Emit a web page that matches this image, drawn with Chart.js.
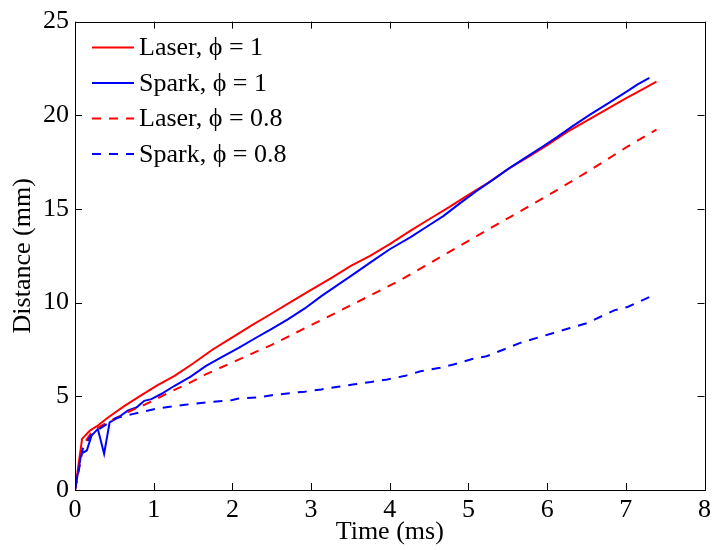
<!DOCTYPE html>
<html lang="en">
<head>
    <meta charset="UTF-8">
    <title>Distance vs Time</title>
    <script src="https://cdn.jsdelivr.net/npm/chart.js"></script>
    <style>
        body { margin: 0; background: #fff; }
        #wrap { width: 716px; height: 550px; }
    </style>
</head>
<body>
    <div id="wrap"><canvas id="distChart"></canvas></div>
    <script>
        // Laser, phi = 1
        const laser1Time = [0, 0.09, 0.19, 0.29, 0.42, 0.63, 0.84, 1.05, 1.26, 1.5, 1.75, 2.0, 2.25, 2.5, 2.75, 3.0, 3.25, 3.5, 3.75, 4.0, 4.25, 4.5, 4.75, 5.0, 5.25, 5.5, 5.75, 6.0, 6.25, 6.5, 6.75, 7.0, 7.2, 7.39];
        const laser1Dist = [0, 2.73, 3.17, 3.44, 3.87, 4.49, 5.05, 5.6, 6.08, 6.75, 7.5, 8.15, 8.8, 9.42, 10.05, 10.68, 11.3, 11.95, 12.5, 13.12, 13.8, 14.45, 15.08, 15.75, 16.4, 17.12, 17.75, 18.4, 19.1, 19.7, 20.3, 20.9, 21.35, 21.8];

        // Spark, phi = 1
        const spark1Time = [0, 0.08, 0.15, 0.21, 0.29, 0.37, 0.44, 0.55, 0.67, 0.78, 0.88, 0.97, 1.09, 1.26, 1.47, 1.66, 1.87, 2.08, 2.29, 2.5, 2.71, 2.92, 3.13, 3.34, 3.55, 3.76, 4.0, 4.26, 4.47, 4.68, 4.89, 5.1, 5.31, 5.52, 5.73, 5.94, 6.13, 6.32, 6.55, 6.8, 7.03, 7.15, 7.3];
        const spark1Dist = [0, 1.94, 2.11, 2.9, 3.26, 1.94, 3.61, 3.87, 4.23, 4.4, 4.76, 4.85, 5.11, 5.55, 6.05, 6.61, 7.1, 7.58, 8.1, 8.6, 9.12, 9.69, 10.35, 10.95, 11.55, 12.16, 12.85, 13.48, 14.05, 14.62, 15.3, 15.95, 16.55, 17.18, 17.75, 18.32, 18.85, 19.41, 20.05, 20.7, 21.32, 21.65, 22.0];

        // Laser, phi = 0.8
        const laser08Time = [0, 0.1, 0.2, 0.3, 0.5, 0.71, 0.9, 1.1, 1.24, 1.45, 1.66, 2.08, 2.5, 2.92, 3.34, 3.76, 4.09, 4.5, 5.0, 5.5, 6.0, 6.5, 7.03, 7.39];
        const laser08Dist = [0, 2.4, 3.0, 3.35, 3.8, 4.23, 4.58, 5.0, 5.3, 5.7, 6.17, 6.96, 7.75, 8.63, 9.51, 10.4, 11.1, 12.08, 13.3, 14.5, 15.7, 16.95, 18.35, 19.24];

        // Spark, phi = 0.8
        const spark08Time = [0, 0.1, 0.2, 0.31, 0.52, 0.65, 0.73, 0.92, 1.07, 1.24, 1.4, 1.66, 2.0, 2.08, 2.33, 2.5, 2.67, 2.92, 3.13, 3.34, 3.55, 3.76, 3.97, 4.2, 4.39, 4.64, 4.81, 5.06, 5.23, 5.45, 5.65, 6.07, 6.28, 6.5, 6.86, 7.03, 7.3];
        const spark08Dist = [0, 2.2, 2.9, 3.26, 3.84, 3.97, 4.05, 4.23, 4.37, 4.46, 4.55, 4.67, 4.8, 4.88, 4.94, 5.06, 5.14, 5.25, 5.37, 5.51, 5.64, 5.76, 5.9, 6.1, 6.34, 6.52, 6.7, 7.0, 7.14, 7.5, 7.84, 8.37, 8.63, 8.9, 9.6, 9.78, 10.3];

        const xTicks = [0, 1, 2, 3, 4, 5, 6, 7, 8];
        const yTicks = [0, 5, 10, 15, 20, 25];

        const toPoints = (t, d) => t.map((v, i) => ({ x: v, y: d[i] }));
        const serif = '"Liberation Serif", "Times New Roman", serif';

        // frame with inward ticks (matlab style) + legend in the top left corner
        const boxAndLegend = {
            id: 'boxAndLegend',
            afterDatasetsDraw(chart) {
                const { ctx, chartArea: a, scales } = chart;
                const tl = 7;
                ctx.save();
                ctx.strokeStyle = '#000';
                ctx.lineWidth = 1;
                ctx.setLineDash([]);
                ctx.beginPath();
                scales.x.ticks.forEach(t => {
                    const px = Math.round(scales.x.getPixelForValue(t.value)) + 0.5;
                    ctx.moveTo(px, a.bottom); ctx.lineTo(px, a.bottom - tl);
                    ctx.moveTo(px, a.top); ctx.lineTo(px, a.top + tl);
                });
                scales.y.ticks.forEach(t => {
                    const py = Math.round(scales.y.getPixelForValue(t.value)) + 0.5;
                    ctx.moveTo(a.left, py); ctx.lineTo(a.left + tl, py);
                    ctx.moveTo(a.right, py); ctx.lineTo(a.right - tl, py);
                });
                ctx.stroke();
                ctx.strokeRect(Math.round(a.left) + 0.5, Math.round(a.top) + 0.5,
                    Math.round(a.right - a.left), Math.round(a.bottom - a.top));

                // legend
                ctx.font = '26px ' + serif;
                ctx.textBaseline = 'middle';
                ctx.textAlign = 'left';
                chart.data.datasets.forEach((ds, i) => {
                    const y = a.top + 26 + i * 35.5;
                    ctx.strokeStyle = ds.borderColor;
                    ctx.lineWidth = 2;
                    ctx.setLineDash(ds.borderDash || []);
                    ctx.beginPath();
                    ctx.moveTo(a.left + 17, y);
                    ctx.lineTo(a.left + 59, y);
                    ctx.stroke();
                    ctx.setLineDash([]);
                    ctx.fillStyle = '#000';
                    ctx.fillText(ds.label, a.left + 64, y + 1);
                });
                ctx.restore();
            }
        };

        const ctx = document.getElementById('distChart').getContext('2d');
        const distChart = new Chart(ctx, {
            type: 'line',
            data: {
                datasets: [
                    { label: 'Laser, \u03d5 = 1', data: toPoints(laser1Time, laser1Dist), borderColor: '#ff0000', order: 4 },
                    { label: 'Spark, \u03d5 = 1', data: toPoints(spark1Time, spark1Dist), borderColor: '#0000ff', order: 3 },
                    { label: 'Laser, \u03d5 = 0.8', data: toPoints(laser08Time, laser08Dist), borderColor: '#ff0000', borderDash: [9, 8], order: 2 },
                    { label: 'Spark, \u03d5 = 0.8', data: toPoints(spark08Time, spark08Dist), borderColor: '#0000ff', borderDash: [9, 8], order: 1 }
                ]
            },
            options: {
                responsive: true,
                maintainAspectRatio: false,
                animation: false,
                layout: { padding: { top: 17, right: 6, left: 0, bottom: 0 } },
                elements: {
                    point: { radius: 0 },
                    line: { borderWidth: 2, tension: 0, fill: false, borderCapStyle: 'butt' }
                },
                plugins: {
                    legend: { display: false },
                    tooltip: { enabled: false }
                },
                scales: {
                    x: {
                        type: 'linear',
                        min: 0, max: 8,
                        afterBuildTicks: s => { s.ticks = xTicks.map(v => ({ value: v })); },
                        afterFit: s => { s.height = 60; },
                        grid: { display: false, drawTicks: false },
                        border: { display: false },
                        ticks: { color: '#000', padding: 5, font: { family: serif, size: 26 } },
                        title: { display: true, text: 'Time (ms)', color: '#000', padding: { top: 0, bottom: 2 }, font: { family: serif, size: 26 } }
                    },
                    y: {
                        min: 0, max: 25,
                        afterBuildTicks: s => { s.ticks = yTicks.map(v => ({ value: v })); },
                        afterFit: s => { s.width = 75; },
                        grid: { display: false, drawTicks: false },
                        border: { display: false },
                        ticks: { color: '#000', padding: 6, font: { family: serif, size: 26 } },
                        title: { display: true, text: 'Distance (mm)', color: '#000', padding: { top: 8, bottom: 0 }, font: { family: serif, size: 26 } }
                    }
                }
            },
            plugins: [boxAndLegend]
        });
    </script>
</body>
</html>
